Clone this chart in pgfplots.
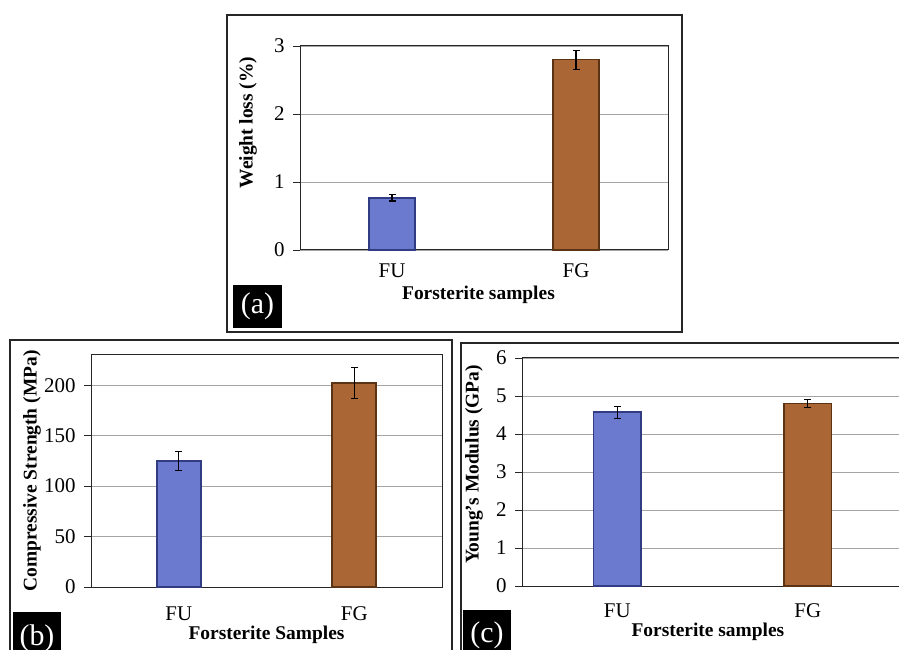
\documentclass[border=0pt]{standalone}
\usepackage{pgfplots}
\pgfplotsset{compat=1.18}
\usepackage{fontspec}
\setmainfont{Liberation Serif}
\definecolor{fu}{RGB}{107,122,206}
\definecolor{fuedge}{RGB}{50,60,130}
\definecolor{fg}{RGB}{170,102,52}
\definecolor{fgedge}{RGB}{90,50,20}
\definecolor{gridc}{RGB}{165,165,165}
\pgfplotsset{
 panel/.style={
  scale only axis, anchor=south west,
  xmin=-0.5, xmax=1.5, ymin=0,
  xtick={0,1}, xticklabels={FU,FG},
  x tick style={draw=none},
  tick align=outside, ytick pos=left, xtick pos=bottom,
  major tick length=7bp,
  ymajorgrids, grid style={gridc, line width=0.9bp},
  axis line style={black!85, line width=1bp},
  y tick style={black!85, line width=0.9bp},
  tick label style={font=\fontsize{21}{23}\selectfont},
  yticklabel style={xshift=-5bp},
  label style={font=\bfseries\fontsize{19.5}{21}\selectfont},
  /pgf/number format/assume math mode=true,
  clip=false,
 },
 fubar/.style={fill=fu, draw=fuedge, line width=1.8bp, bar width=0.25, bar shift=0pt, ybar,
   error bars/.cd, y dir=both, y explicit,
   error bar style={black, line width=1.1bp},
   error mark options={rotate=90, black, mark size=3.5bp, line width=1.1bp}},
 fgbar/.style={fill=fg, draw=fgedge, line width=1.8bp, bar width=0.25, bar shift=0pt, ybar,
   error bars/.cd, y dir=both, y explicit,
   error bar style={black, line width=1.1bp},
   error mark options={rotate=90, black, mark size=3.5bp, line width=1.1bp}},
}
\begin{document}
\begin{tikzpicture}
\useasboundingbox (0,0) rectangle (899bp,650bp);
\clip (0,0) rectangle (899bp,650bp);
% frames
\draw[black!85, line width=1.2bp] (227bp,318bp) rectangle (682bp,635bp);
\draw[black!85, line width=1.2bp] (10bp,-10bp) rectangle (452bp,310bp);
\draw[black!85, line width=1.2bp] (461bp,-10bp) rectangle (910bp,307bp);

% (a)
\begin{axis}[panel, at={(300bp,400bp)}, width=368bp, height=204bp,
  ymax=3, ytick={0,1,2,3},
  xticklabel style={yshift=-3bp},
  xlabel={Forsterite samples}, ylabel={Weight loss (\%)},
  xlabel style={at={(axis description cs:0.485,-0.22)}, anchor=center},
  ylabel style={at={(axis description cs:-0.141,0.625)}, anchor=center}]
\addplot[fubar] coordinates {(0,0.77) +- (0,0.05)};
\addplot[fgbar] coordinates {(1,2.80) +- (0,0.14)};
\end{axis}

% (b)
\begin{axis}[panel, at={(91bp,63bp)}, width=351bp, height=232bp,
  ymax=230, ytick={0,50,100,150,200},
  xticklabel style={yshift=-9bp},
  xlabel={Forsterite Samples}, ylabel={Compressive Strength (MPa)},
  xlabel style={at={(axis description cs:0.5,-0.207)}, anchor=center},
  ylabel style={at={(axis description cs:-0.168,0.5)}, anchor=center}]
\addplot[fubar] coordinates {(0,125) +- (0,9.5)};
\addplot[fgbar] coordinates {(1,202) +- (0,15.5)};
\end{axis}

% (c)
\begin{axis}[panel, at={(522bp,64bp)}, width=381bp, height=228bp,
  ymax=6, ytick={0,1,2,3,4,5,6},
  xticklabel style={yshift=-7bp},
  xlabel={Forsterite samples}, ylabel={Young's Modulus (GPa)},
  xlabel style={at={(axis description cs:0.488,-0.20)}, anchor=center},
  ylabel style={at={(axis description cs:-0.126,0.533)}, anchor=center}]
\addplot[fubar] coordinates {(0,4.57) +- (0,0.16)};
\addplot[fgbar] coordinates {(1,4.80) +- (0,0.11)};
\end{axis}

% panel tags
\fill[black] (233bp,322bp) rectangle (282bp,365bp);
\node[white, font=\fontsize{30}{32}\selectfont] at (257.5bp,344bp) {(a)};
\fill[black] (13bp,-5bp) rectangle (61bp,38bp);
\node[white, font=\fontsize{30}{32}\selectfont] at (37bp,12bp) {(b)};
\fill[black] (463bp,-5bp) rectangle (511bp,40bp);
\node[white, font=\fontsize{30}{32}\selectfont] at (487bp,15bp) {(c)};
\end{tikzpicture}
\end{document}
